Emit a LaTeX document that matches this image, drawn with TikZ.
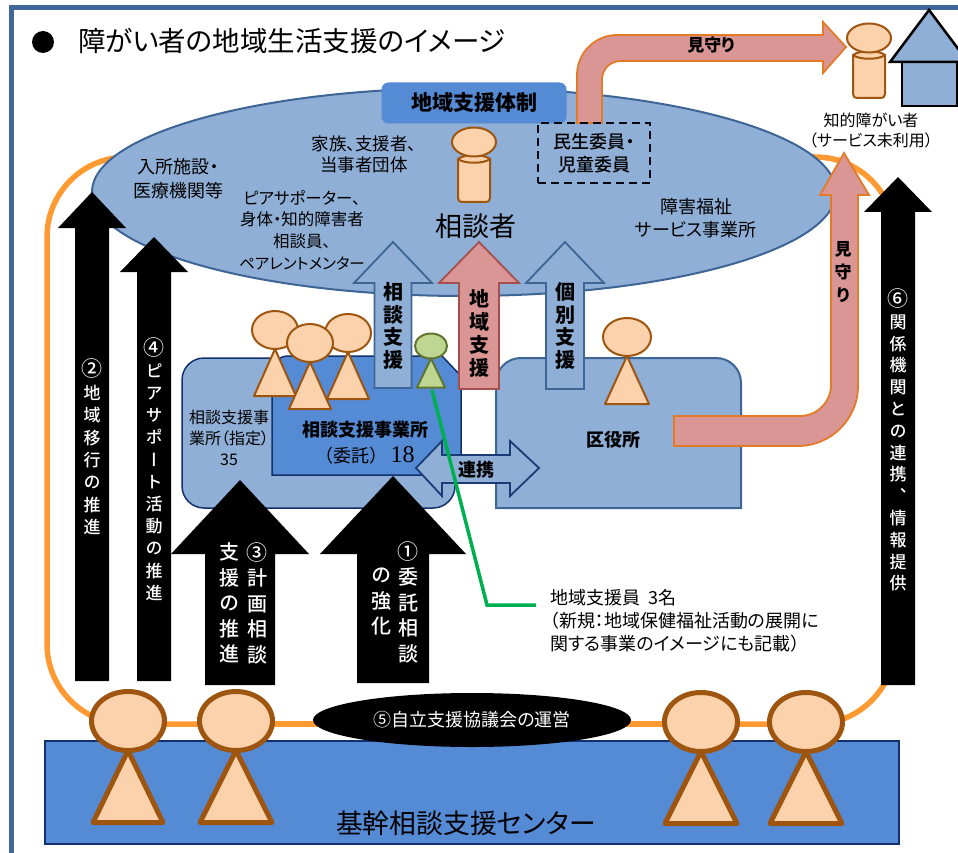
\documentclass[tikz,border=0pt]{standalone}
\usepackage{fontspec}
\setmainfont[RawFeature=+palt]{Noto Sans CJK JP}
\newfontfamily\jpv[RawFeature=+vert]{Noto Sans CJK JP}
\newfontfamily\jpf{Noto Sans CJK JP}
\newfontfamily\jpm[RawFeature=+palt]{Noto Sans CJK JP Medium}
\newfontfamily\jpmv[RawFeature=+vert]{Noto Sans CJK JP Medium}
\newfontfamily\numfont{Liberation Serif}
\usetikzlibrary{shapes.geometric}
\definecolor{framecol}{HTML}{3F6797}
\definecolor{skyfill}{HTML}{8FAFD6}
\definecolor{skyedge}{HTML}{3D6596}
\definecolor{deepfill}{HTML}{558AD5}
\definecolor{navyedge}{HTML}{12306B}
\definecolor{pinkfill}{HTML}{D99694}
\definecolor{pinkedge}{HTML}{E37B26}
\definecolor{rededge}{HTML}{A5504E}
\definecolor{skinfill}{HTML}{FBD2AC}
\definecolor{skinedge}{HTML}{9E5510}
\definecolor{loopcol}{HTML}{FF9A33}
\definecolor{greenfill}{HTML}{BFD592}
\definecolor{greenedge}{HTML}{5F7530}
\definecolor{greenline}{HTML}{00B050}
\tikzset{
  sky/.style={draw=skyedge, fill=skyfill, line width=2pt},
  deep/.style={draw=navyedge, fill=deepfill, line width=1.5pt},
  blackblock/.style={fill=black},
  skyblock/.style={draw=skyedge, fill=skyfill, line width=1.8pt},
  redblock/.style={draw=rededge, fill=pinkfill, line width=1.8pt},
  pinkblock/.style={draw=pinkedge, fill=pinkfill, line width=1.8pt},
  smallman/.style={draw=skinedge, fill=skinfill, line width=2pt, line join=round},
  bigman/.style={draw=skinedge, fill=skinfill, line width=5pt, line join=round},
  greenman/.style={draw=greenedge, fill=greenfill, line width=2pt, line join=round},
  txt/.style 2 args={inner sep=0pt, align=center, font=\fontsize{#1}{#2}\selectfont},
  btxt/.style 2 args={inner sep=0pt, align=center, font=\fontsize{#1}{#2}\selectfont\bfseries},
  mtxt/.style 2 args={inner sep=0pt, align=center, font=\fontsize{#1}{#2}\selectfont\jpm},
  vtxt/.style 2 args={inner sep=0pt, align=center, font=\fontsize{#1}{#2}\selectfont\jpmv},
  bvtxt/.style 2 args={inner sep=0pt, align=center, font=\fontsize{#1}{#2}\selectfont\jpv\bfseries},
}
% circled number in vertical labels
\newcommand{\cnum}[1]{{\fontsize{21}{21}\selectfont #1}}
% person with triangle body
\newcommand{\triman}[8]{
\node[#2, ellipse, inner sep=0pt, outer sep=0pt, minimum width=#5, minimum height=#6] (#1) at (#3,#4) {};
\draw[#2] (#1.south) -- ++(#7,#8) -- ++(-2*#7,0) -- cycle;
}
% person with round top body
\newcommand{\cylman}[3]{
\draw[smallman] (#2-16,#3+17) -- (#2-16,#3+56) .. controls (#2-16,#3+59) and (#2-14,#3+60) .. (#2-12,#3+60) -- (#2+12,#3+60) .. controls (#2+14,#3+60) and (#2+16,#3+59) .. (#2+16,#3+56) -- (#2+16,#3+17) -- cycle;
\draw[smallman] (#2-16,#3+17) .. controls (#2-10,#3+12) and (#2+10,#3+12) .. (#2+16,#3+17) .. controls (#2+10,#3+22) and (#2-10,#3+22) .. (#2-16,#3+17) -- cycle;
\node[smallman, ellipse, inner sep=0pt, outer sep=0pt, minimum width=44pt, minimum height=29pt] (#1) at (#2,#3) {};
}
% upward block arrow: style, x, tip, head base, bottom, half shaft, half head
\newcommand{\upblock}[7]{
\path[#1] (#2-#6,#5) -- (#2-#6,#4) -- (#2-#7,#4) -- (#2,#3) -- (#2+#7,#4) -- (#2+#6,#4) -- (#2+#6,#5) -- cycle;
}
\begin{document}
\begin{tikzpicture}[x=1pt,y=-1pt]
\useasboundingbox (0,0) rectangle (958,853);
% draws frame and title
\draw[framecol, line width=5pt] (11,853) -- (11,8) -- (958,8);
\node[circle, fill=black, inner sep=0pt, minimum size=22pt] (dot) at (43,42) {};
\node[txt={27.5}{32}, anchor=west] (title) at (78,41) {障がい者の地域生活支援のイメージ};
% draws loop and ellipse
\draw[loopcol, line width=5.5pt, rounded corners=80pt] (47,157) rectangle (895,724);
\node[sky, ellipse, inner sep=0pt, minimum width=744pt, minimum height=208pt] (region) at (464,192) {};
\draw[loopcol, line width=4pt] (825,157) -- (848,161);
\node[fill=deepfill, rounded corners=7pt, minimum width=185pt, minimum height=41pt, btxt={21}{25}] (system) at (474,103) {地域支援体制};
% draws top watch arrow
\draw[pinkblock] (577,123) -- (577,75) .. controls (577,53) and (595,35) .. (617,35) -- (823,35) -- (823,22) -- (846,47) -- (823,73) -- (823,61) -- (621,61) .. controls (610,61) and (602,69) .. (602,80) -- (602,123) -- cycle;
\node[draw=black!85!navyedge, dash pattern=on 8pt off 5pt, line width=1.7pt, minimum width=112pt, minimum height=60pt, mtxt={18}{23}] (welfare) at (594,153) {民生委員・\\児童委員};
% draws person outside and house
\cylman{alone}{869}{38}
\draw[black, line width=2.5pt, fill=skyfill, line join=miter] (902,62) rectangle (957,106);
\draw[black, line width=2.5pt, fill=skyfill, line join=miter] (890,62) -- (929,10) -- (968,62) -- cycle;
% draws center person
\cylman{soudan}{474}{142}
% draws black arrows
\upblock{blackblock}{92}{192}{228}{681}{17}{34}
\upblock{blackblock}{154}{237}{272}{681}{17}{34}
\upblock{blackblock}{898}{177}{212}{685}{17}{34}
% draws offices
\draw[sky] (496,508) -- (496,383) .. controls (496,369) and (507,358) .. (521,358) -- (716,358) .. controls (730,358) and (741,369) .. (741,383) -- (741,508) -- cycle;
\draw[deep, fill=skyfill, rounded corners=22pt] (182,358) rectangle (455,508);
\draw[deep] (272,475) -- (272,372) .. controls (272,363) and (279,356) .. (288,356) -- (442,356) -- (461,376) -- (461,475) -- cycle;
% draws up arrows
\upblock{blackblock}{240}{480}{554}{685}{35}{69}
\upblock{blackblock}{393}{476}{554}{683}{36}{73}
\upblock{skyblock}{393}{242}{283}{388}{18.5}{39}
\upblock{skyblock}{565}{242}{283}{389}{19}{39}
\upblock{redblock}{479}{242}{283}{389}{20}{40}
% draws people
\triman{staffa}{smallman}{275}{330}{46pt}{38pt}{21}{47}
\triman{staffc}{smallman}{348}{333}{46pt}{38pt}{21}{47}
\triman{staffb}{smallman}{310}{343}{46pt}{38pt}{21}{47}
\triman{supporter}{greenman}{431}{346}{32pt}{25pt}{14}{29}
\triman{clerk}{smallman}{627}{337}{48pt}{38pt}{22}{48}
% draws watch arrow and link arrow
\draw[pinkblock] (674,416) -- (800,416) .. controls (817,416) and (831,402) .. (831,385) -- (831,195) -- (820,195) -- (844,153) -- (869,195) -- (858,195) -- (858,386) .. controls (858,419) and (831,446) .. (798,446) -- (674,446) -- cycle;
\draw[draw=navyedge!80!skyedge, fill=skyfill, line width=1.8pt] (416,468) -- (442,441) -- (442,455) -- (510,455) -- (510,441) -- (539,468) -- (510,496) -- (510,483) -- (442,483) -- (442,496) -- cycle;
% draws bottom bar, ellipse and people
\node[deep, inner sep=0pt, minimum width=854pt, minimum height=103pt] (basebar) at (472,792.5) {};
\draw[loopcol, line width=5.5pt] (200,724) -- (700,724);
\node[ellipse, fill=black, text=white, minimum width=318pt, minimum height=54pt, txt={18}{22}] (council) at (472,720) {⑤自立支援協議会の運営};
\triman{basea}{bigman}{128}{721}{73pt}{59pt}{35}{72}
\triman{baseb}{bigman}{236}{721}{73pt}{59pt}{36}{72}
\triman{basec}{bigman}{701}{722}{73pt}{59pt}{36}{72}
\triman{based}{bigman}{806}{722}{73pt}{59pt}{36}{72}
% draws green line
\coordinate (gstart) at (432,390);
\coordinate (gbend) at (487,605);
\coordinate (gend) at (536,605);
\draw[greenline, line width=3.5pt] (gstart) -- (gbend) -- (gend);
% labels inside ellipse
\node[txt={18}{24}] (nyusho) at (178,179) {入所施設・\\医療機関等};
\node[txt={17.5}{21}] (kazoku) at (364,154) {家族、支援者、\\当事者団体};
\node[txt={16.5}{21.7}] (peer) at (302,230) {ピアサポーター、\\身体・知的障害者\\相談員、\\{\fontsize{15.5}{21.7}\selectfont ペアレントメンター}};
\node[txt={27}{32}] (soudantext) at (476,226) {相談者};
\node[txt={18}{23}] (jigyo) at (696,218) {障害福祉\\サービス事業所};
\node[txt={16}{20}] (chiteki) at (871,131) {知的障がい者\\（サービス未利用）};
\node[btxt={17}{20}] (watcha) at (711,45) {見守り};
% labels up arrows
\node[bvtxt={20}{22.7}] (shienv) at (393,326) {相\\談\\支\\援};
\node[bvtxt={20}{23}] (chiikiv) at (479,333) {地\\域\\支\\援};
\node[bvtxt={20}{22.7}] (kobetsuv) at (565,326) {個\\別\\支\\援};
\node[bvtxt={17}{23}] (watchb) at (843,272) {見\\守\\り};
% labels offices
\node[txt={16}{21}] (shitei) at (229,438) {相談支援事\\業所（指定）\\35};
\node[txt={18}{26}] (itaku) at (365,443) {\textbf{相談支援事業所}\\{\jpf（委託）}\,{\numfont\fontsize{24}{26}\selectfont 18}};
\node[btxt={18}{22}] (kuyaku) at (613,440) {区役所};
\node[btxt={18}{20}] (renkei) at (476,470) {連携};
% labels black arrows
\node[vtxt={17}{22.4}, text=white] (labela) at (92,447) {\cnum{②}\\地\\域\\移\\行\\の\\推\\進};
\node[vtxt={17}{22.2}, text=white] (labelb) at (154,469) {\cnum{④}\\ピ\\ア\\サ\\ポ\\ー\\ト\\活\\動\\の\\推\\進};
\node[vtxt={20}{25.5}, text=white] (labelc) at (257,603) {\cnum{③}\\計\\画\\相\\談};
\node[vtxt={20}{25.5}, text=white] (labeld) at (229,603) {支\\援\\の\\推\\進};
\node[vtxt={20}{25.5}, text=white] (labele) at (408,602) {\cnum{①}\\委\\託\\相\\談};
\node[vtxt={20}{25.5}, text=white] (labelf) at (381,602) {の\\強\\化};
\node[vtxt={17}{21.8}, text=white] (labelg) at (898,440) {\cnum{⑥}\\関\\係\\機\\関\\と\\の\\連\\携\\、\\情\\報\\提\\供};
% labels bottom and note
\node[txt={26.8}{30}] (basetext) at (466,823) {基幹相談支援センター};
\node[txt={18}{23}, align=left, anchor=west] (note) at (550,621) {地域支援員\ \ 3名\\（新規：地域保健福祉活動の展開に\\関する事業のイメージにも記載）};
\end{tikzpicture}
\end{document}
